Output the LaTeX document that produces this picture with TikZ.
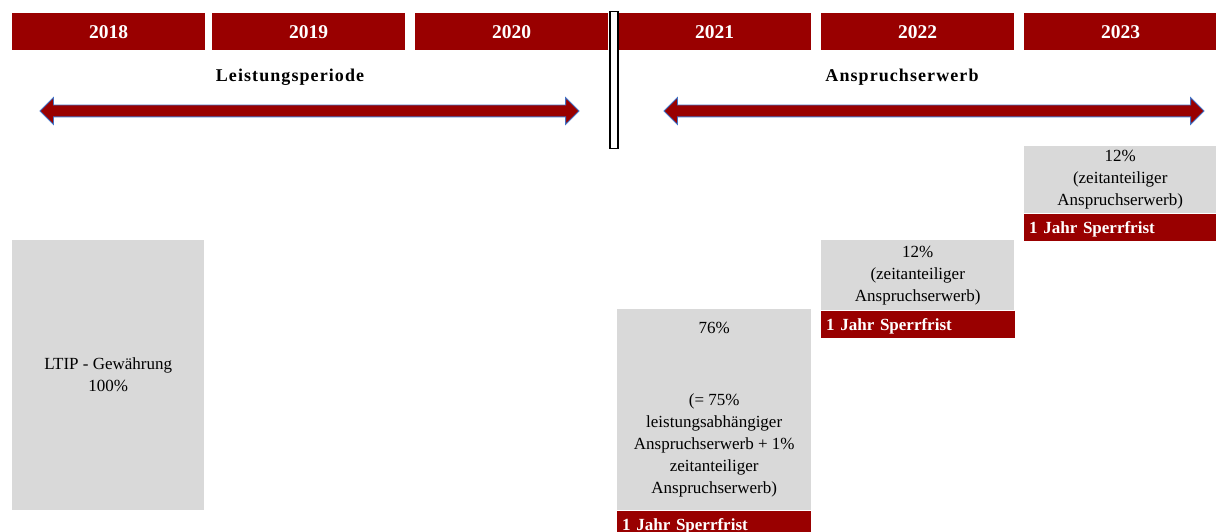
\documentclass[tikz,border=0pt]{standalone}
\usepackage{fontspec}
\setmainfont{Liberation Serif}
\newfontfamily\spacedserif[LetterSpace=6]{Liberation Serif}
\usetikzlibrary{positioning,shapes.arrows}
\definecolor{ltipRed}{HTML}{990000}
\definecolor{ltipGrey}{HTML}{D9D9D9}
\definecolor{ltipBlue}{HTML}{4472C4}
\tikzset{
  yearbar/.style={fill=ltipRed, text=white, anchor=north west, inner sep=0pt,
              minimum width=193pt, minimum height=37pt,
              font=\fontsize{19.5}{22}\selectfont\bfseries},
  phase/.style={font=\fontsize{18}{21}\selectfont\spacedserif\bfseries},
  span/.style={double arrow, fill=ltipRed, draw=ltipBlue, line width=0.8pt,
              minimum width=26pt, double arrow head extend=7.5pt,
              inner xsep=0pt, inner ysep=5.5pt, anchor=center},
  greybox/.style={fill=ltipGrey, anchor=north west, inner sep=0pt, align=center,
              font=\fontsize{17}{22}\selectfont},
  lockup/.style={fill=ltipRed, text=white, anchor=north west, inner sep=0pt,
              inner xsep=5pt, text depth=0pt, align=left,
              font=\fontsize{17}{20}\selectfont\bfseries},
}
\begin{document}
\begin{tikzpicture}[x=1pt,y=-1pt]
    \useasboundingbox (0,0) rectangle (1216,532);
    % year header
    \foreach \yr/\x in {2018/12,2019/212,2020/415,2021/618,2022/821,2023/1024}{
      \node[yearbar] (y\yr) at (\x,13) {\yr};}
    % cut between performance and vesting
    \node[draw=black, fill=white, line width=1.5pt, anchor=north west, inner sep=0pt,
          minimum width=8pt, minimum height=137pt] (cut) at (609,11) {};
    \node[phase] (perf) at (290,77) {Leistungsperiode};
    \node[phase] (vest) at (902,77) {Anspruchserwerb};
    \node[span, minimum height=539pt] (perfspan) at (309.5,111) {};
    \node[span, minimum height=540pt] (vestspan) at (934,111) {};
    % grant
    \node[greybox, minimum width=192pt, minimum height=270pt] (grant) at (12,240)
          {LTIP - Gewährung\\100\%};
    % vesting tranches
    \node[greybox, minimum width=194pt, minimum height=201pt] (t21) at (617,309)
          {76\%\\[50pt](= 75\%\\leistungsabhängiger\\Anspruchserwerb + 1\%\\zeitanteiliger\\Anspruchserwerb)};
    \node[greybox, minimum width=193pt, minimum height=70pt] (t22) at (821,240)
          {12\%\\(zeitanteiliger\\Anspruchserwerb)};
    \node[greybox, minimum width=192pt, minimum height=67pt] (t23) at (1024,146)
          {12\%\\(zeitanteiliger\\Anspruchserwerb)};
    \foreach \t in {t21,t22,t23}{
      \node[lockup, minimum width=194pt, minimum height=27pt, text width=184pt]
            (lock\t) at (\t.south west) {1 Jahr Sperrfrist};}
\end{tikzpicture}
\end{document}
